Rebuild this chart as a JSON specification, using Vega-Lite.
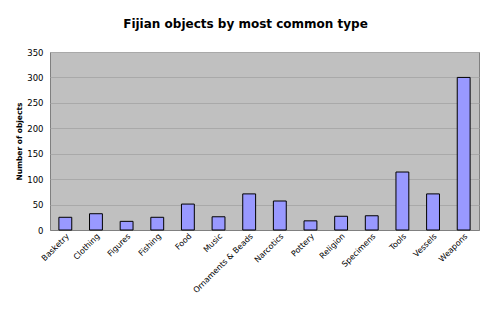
{
  "$schema": "https://vega.github.io/schema/vega-lite/v6.json",
  "autosize": "none",
  "width": 429,
  "height": 178,
  "padding": {"left": 50, "top": 52, "right": 12, "bottom": 88},
  "background": "white",
  "title": {
    "text": "Fijian objects by most common type",
    "font": "DejaVu Sans",
    "fontSize": 12,
    "fontWeight": "bold",
    "color": "black",
    "anchor": "middle",
    "dx": -19,
    "offset": 8,
    "baseline": "alphabetic"
  },
  "data": {
    "values": [
      {"type": "Basketry", "count": 25},
      {"type": "Clothing", "count": 32},
      {"type": "Figures", "count": 17},
      {"type": "Fishing", "count": 25},
      {"type": "Food", "count": 51},
      {"type": "Music", "count": 26},
      {"type": "Ornaments & Beads", "count": 71},
      {"type": "Narcotics", "count": 57},
      {"type": "Pottery", "count": 18},
      {"type": "Religion", "count": 27},
      {"type": "Specimens", "count": 28},
      {"type": "Tools", "count": 114},
      {"type": "Vessels", "count": 71},
      {"type": "Weapons", "count": 300}
    ]
  },
  "mark": {"type": "bar", "fill": "#9999ff", "stroke": "black", "strokeWidth": 1},
  "encoding": {
    "x": {
      "field": "type",
      "type": "nominal",
      "sort": null,
      "scale": {"paddingInner": 0.58, "paddingOuter": 0.29},
      "axis": {
        "title": null,
        "labelAngle": -45,
        "labelFont": "DejaVu Sans",
        "labelFontSize": 8,
        "labelColor": "black",
        "labelPadding": 2,
        "labelDx": -6,
        "labelDy": 2,
        "domainColor": "#808080",
        "ticks": false,
        "labelOverlap": false
      }
    },
    "y": {
      "field": "count",
      "type": "quantitative",
      "scale": {"domain": [0, 350], "nice": false},
      "axis": {
        "title": "Number of objects",
        "titleFont": "DejaVu Sans",
        "titleFontSize": 7.5,
        "titleFontWeight": "bold",
        "titleColor": "black",
        "titlePadding": 3,
        "values": [0, 50, 100, 150, 200, 250, 300, 350],
        "labelFont": "DejaVu Sans",
        "labelFontSize": 8.5,
        "labelColor": "black",
        "labelPadding": 7,
        "ticks": false,
        "domain": false,
        "grid": true,
        "gridColor": "#a9a9a9",
        "gridWidth": 1
      }
    }
  },
  "config": {
    "view": {"fill": "#c0c0c0", "stroke": "#808080", "strokeWidth": 1}
  }
}
